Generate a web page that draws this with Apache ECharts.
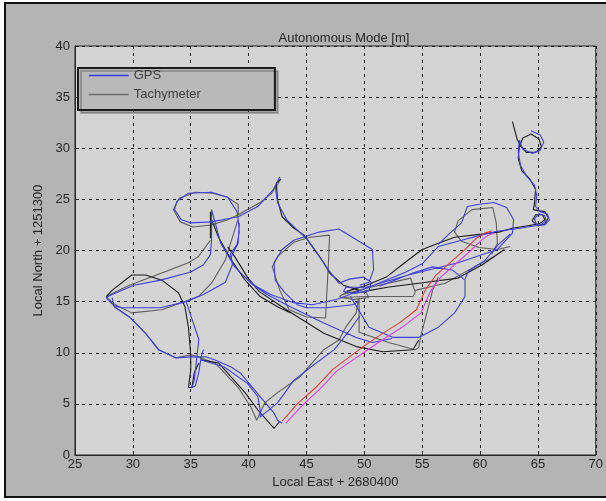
<!DOCTYPE html>
<html>
<head>
<meta charset="utf-8">
<script src="https://cdn.jsdelivr.net/npm/echarts@6/dist/echarts.min.js"></script>
<style>
  html, body { margin: 0; padding: 0; background: #fff; }
  #chart { width: 606px; height: 501px; }
</style>
</head>
<body>
<div id="chart"></div>
<script>
// GPS track pieces (local east, local north) [m]
const gpsCurl = [[64.4,31.7],[65.2,31.3],[65.5,30.6],[65.2,29.8],[64.5,29.5],[63.7,29.9],[63.4,30.8],[63.3,29.6],[63.5,28.3],[64.0,27.3],[64.7,26.4],[64.9,25.4],[64.8,24.3],[65.2,23.8],[65.8,23.6],[66.0,23.0],[65.6,22.5],[64.9,22.5],[64.7,23.1],[65.1,23.6],[65.6,23.4],[65.7,22.9],[65.2,22.5],[64.1,22.3],[63.0,22.1],[61.6,21.9],[60.4,21.6],[58.4,21.0],[56.4,20.4],[55.0,18.7],[53.6,17.9],[50.4,16.4],[47.6,15.2],[45.5,14.7],[43.9,14.9],[41.9,15.7],[40.5,16.6],[39.5,17.6],[38.6,18.7],[38.4,19.6],[39.0,20.6],[39.2,21.8],[39.1,23.0],[39.0,23.8]];
const gpsLoop = [[39.0,23.8],[38.2,25.2],[36.8,25.7],[34.8,25.6],[33.8,24.8],[33.6,24.0],[34.2,23.0],[35.0,22.7],[36.8,22.8],[39.1,23.3],[40.8,24.3],[42.1,25.9],[42.7,27.2],[42.3,26.3],[42.5,24.7],[43.3,23.0],[44.4,21.8],[45.0,21.2],[45.9,19.8],[46.7,18.4],[47.8,16.8],[48.7,17.2],[49.9,17.4],[50.6,16.9],[50.4,16.1],[49.2,15.8],[48.2,16.0],[48.4,16.4],[50.2,16.4],[53.8,17.6],[58.1,18.8],[61.5,20.1],[62.8,21.7],[62.9,23.0],[62.3,24.2],[61.2,24.7],[59.8,24.5],[58.9,24.3],[58.4,22.7],[57.3,21.6],[56.4,20.6]];
const gpsPentagon = [[49.5,15.0],[49.0,14.7],[46.7,14.4],[45.0,14.4],[44.2,14.7],[43.1,15.9],[42.3,17.1],[42.2,18.8],[42.9,20.1],[43.9,21.0],[46.1,21.8],[47.8,22.1],[50.7,20.1],[50.8,18.1],[50.4,16.9],[49.6,16.6]];
const gpsEast = [[48.8,15.5],[49.6,14.0],[50.4,12.5],[52.5,11.5],[54.7,11.5],[56.4,12.5],[57.8,13.9],[58.7,15.5],[58.7,17.1],[57.6,18.1],[55.9,18.4],[54.2,17.8],[51.3,16.5]];
const gpsSweep = [[62.6,21.6],[61.6,20.6],[60.4,19.0],[59.0,18.0],[58.7,17.2]];
const gpsWest = [[36.8,24.0],[36.8,21.0],[36.7,19.6],[36.1,18.6],[35.0,17.9],[32.4,17.1],[30.1,16.6],[28.2,15.7],[27.7,15.4],[28.0,15.0],[28.4,14.6],[29.0,14.4],[32.4,14.4],[34.6,15.0],[36.1,15.7],[38.0,16.9],[38.6,18.6],[38.5,19.4],[39.1,20.7],[39.2,22.7]];
const gpsDiag = [[36.8,24.0],[37.6,20.7],[38.8,18.4],[40.2,16.8],[41.6,15.7],[43.6,14.5],[46.5,12.9],[49.3,11.5],[50.7,11.0],[52.4,11.4]];
const gpsSouth = [[28.2,15.4],[28.4,14.5],[29.7,13.5],[31.1,11.9],[32.2,10.3],[33.7,9.5],[35.1,9.6],[36.3,9.6],[37.1,9.3],[38.5,8.6],[39.3,8.0],[41.0,5.7],[42.2,4.1],[42.5,3.4],[42.9,3.1]];
const gpsSouth2 = [[35.9,9.3],[37.9,8.6],[39.9,7.0],[40.8,5.7],[41.0,4.4],[41.0,3.7],[41.4,4.1],[42.5,5.1],[43.9,7.3],[45.5,8.7],[47.4,10.3],[48.8,12.3],[49.6,13.6]];
const gpsNeedle = [[34.6,15.0],[35.2,13.0],[35.7,11.3],[35.5,9.3],[35.3,7.3],[35.1,6.6],[35.4,6.75],[35.7,8.1],[35.9,9.6],[36.1,10.3]];

// Tachymeter track pieces
const tachyCurl = [[62.8,32.6],[63.2,30.9],[63.5,30.2],[64.0,29.6],[64.8,29.6],[65.3,30.1],[65.1,30.9],[64.4,31.4],[63.7,31.0],[63.4,30.2],[63.3,29.0],[63.6,27.8],[64.3,27.0],[64.8,26.0],[64.7,24.6],[64.6,24.0],[65.0,23.9],[65.6,23.8],[65.9,23.2],[65.6,22.6],[65.0,22.4],[64.5,22.9],[64.8,23.5],[65.4,23.5],[65.6,23.0],[65.1,22.6],[64.0,22.4],[62.9,22.2],[61.6,21.8],[60.1,21.6],[57.8,21.3],[56.4,20.7],[55.0,20.1],[53.6,18.9],[51.9,17.4],[50.2,16.6],[48.5,16.0]];
const tachyOct = [[61.0,19.6],[61.5,20.7],[61.4,22.7],[61.1,24.2],[59.3,24.0],[58.1,22.9],[57.8,21.8],[58.4,20.9],[59.9,20.3],[61.5,20.1],[62.6,20.4]];
const tachyEast = [[61.2,19.4],[59.5,18.4],[57.0,16.8],[55.5,16.4],[54.4,16.1]];
const tachyEast2 = [[62.1,20.1],[60.2,18.6],[58.1,17.3],[54.7,16.8],[52.0,16.4],[50.0,16.0]];
const tachyD = [[47.0,21.5],[46.9,18.8],[46.65,13.4],[45.0,13.5],[43.5,14.2],[42.7,16.1],[42.05,18.4],[42.5,19.4],[43.9,20.8],[45.3,21.3],[47.0,21.5]];
const tachyPeak = [[42.8,27.0],[42.4,26.6],[42.5,24.95],[42.9,23.3],[43.9,22.2],[44.8,21.5],[45.3,20.7],[46.5,18.8],[47.0,17.8],[48.2,16.6],[49.55,16.1]];
const tachySmall = [[47.85,15.5],[48.4,15.9],[50.15,15.9],[50.4,15.4],[49.0,15.2],[48.0,15.4],[47.85,15.5]];
const tachyLens = [[48.0,15.65],[50.15,16.3],[54.0,17.3],[54.4,15.9],[54.2,15.5],[50.15,15.5],[48.0,15.4]];
const tachyWedge = [[49.55,15.4],[49.55,12.0],[52.1,11.0],[54.4,10.3],[54.7,10.5],[54.9,11.75],[55.4,13.9],[55.9,16.1],[56.4,17.4]];
const tachyArc = [[38.2,20.35],[38.8,19.4],[39.9,17.4],[40.9,16.0],[43.4,14.1],[46.5,11.9],[49.3,10.6],[51.6,10.1],[54.2,10.3],[54.7,11.25]];
const tachyEllipse = [[39.1,23.5],[39.1,24.5],[38.2,25.2],[36.9,25.6],[35.4,25.7],[34.0,25.1],[33.5,24.0],[34.1,22.8],[35.2,22.3],[36.8,22.5],[38.2,23.0],[39.1,23.5],[41.0,24.7],[42.0,25.6],[42.8,27.0]];
const tachyTick = [[36.7,23.8],[36.7,21.2]];
const tachyDiag = [[36.7,23.3],[37.4,21.3],[38.5,19.1],[39.7,17.1],[41.0,15.5],[42.5,14.5],[43.6,13.9]];
const tachyWest = [[36.7,21.0],[35.66,19.4],[34.8,18.8],[32.5,17.8],[29.7,16.6],[27.7,15.5],[28.2,14.9],[28.84,14.5],[29.9,13.9],[32.5,14.2],[34.2,14.9],[35.66,15.5],[36.8,16.8],[38.0,19.1],[38.8,22.0],[39.07,23.0]];
const tachyHump = [[27.7,15.5],[28.2,16.1],[29.9,17.6],[31.1,17.6],[32.5,17.1],[33.95,15.85],[34.5,14.5],[34.8,12.5],[35.0,9.8],[35.0,8.3],[34.8,6.6],[35.1,6.6],[35.3,8.0],[35.7,9.0]];
const tachySouth = [[28.0,15.2],[28.4,14.5],[29.7,13.5],[31.1,11.9],[32.25,10.3],[33.7,9.5],[35.05,9.8],[37.1,9.0],[39.07,6.65],[40.2,4.7],[40.7,3.4],[41.4,5.1],[42.5,6.1],[44.4,7.6],[46.5,10.3],[47.8,11.25],[48.4,12.5],[49.3,13.9],[49.5,15.3]];
const tachySouth2 = [[35.9,9.3],[37.4,9.0],[39.7,6.1],[40.8,4.4],[42.2,2.6],[42.7,3.3]];

// reference segments
const redTrack = [[42.9,3.3],[44.2,5.0],[45.9,6.7],[47.3,8.4],[49.9,10.6],[51.2,11.6],[53.0,12.9],[54.5,14.2],[55.3,16.2],[56.2,17.6],[57.8,19.2],[58.8,20.2],[59.7,21.2],[60.4,21.7],[61.0,21.9]];
const magentaTrack = [[43.2,3.1],[44.6,4.8],[46.2,6.5],[47.6,8.2],[50.3,10.3],[51.6,11.3],[53.4,12.6],[54.9,13.9],[55.7,16.0],[56.6,17.4],[58.2,19.0],[59.2,20.0],[60.1,21.0],[60.7,21.5],[61.2,21.7]];

const gpsPieces = [gpsCurl, gpsLoop, gpsPentagon, gpsEast, gpsSweep, gpsWest, gpsDiag, gpsSouth, gpsSouth2, gpsNeedle];
const grayPieces = [tachyOct, tachyEast, tachyD, tachySmall, tachyLens, tachyWedge, tachyEllipse, tachyWest, tachySouth];
const blackPieces = [tachyCurl, tachyEast2, tachyPeak, tachyArc, tachyTick, tachyDiag, tachyHump, tachySouth2];

// glue pieces into one series, a null point breaks the line between them
function joinPieces(pieces) {
  const out = [];
  pieces.forEach((p, i) => {
    if (i > 0) out.push([null, null]);
    p.forEach(pt => out.push(pt));
  });
  return out;
}

const FONT = 'Liberation Sans, Arial, sans-serif';
const INK = '#262626';
const BLUE = '#4040d8';
const GRAY = '#5e5e5e';

function track(name, data, color, z) {
  return {
    name: name,
    type: 'line',
    data: data,
    symbol: 'none',
    connectNulls: false,
    z: z,
    lineStyle: { color: color, width: 1.1 },
    itemStyle: { color: color }
  };
}

const series = [
  track('Tachymeter', joinPieces(grayPieces), GRAY, 2),
  track('Tachymeter (raw)', joinPieces(blackPieces), '#1c1c1c', 2),
  track('GPS', joinPieces(gpsPieces), BLUE, 3),
  track('ref', redTrack, '#e23a3a', 4),
  track('ref2', magentaTrack, '#e040e0', 4)
];

const chart = echarts.init(document.getElementById('chart'), null, { renderer: 'canvas' });
chart.setOption({
  animation: false,
  backgroundColor: '#ffffff',
  textStyle: { fontFamily: FONT },
  graphic: [{
    type: 'rect',
    z: -10,
    shape: { x: 5, y: 3, width: 610, height: 494 },
    style: { fill: '#b4b4b4', stroke: '#111', lineWidth: 2 }
  }],
  title: {
    text: 'Autonomous Mode [m]',
    left: 339,
    top: 27,
    textAlign: 'center',
    textStyle: { fontFamily: FONT, fontSize: 13, fontWeight: 'normal', color: INK }
  },
  legend: {
    data: [
      { name: 'GPS', itemStyle: { opacity: 0 }, lineStyle: { color: '#3a3ae0', width: 1.4 } },
      { name: 'Tachymeter', itemStyle: { opacity: 0 }, lineStyle: { color: '#6a6a6a', width: 1.4 } }
    ],
    orient: 'vertical',
    left: 78,
    top: 68,
    itemWidth: 40,
    itemHeight: 14,
    itemGap: 6,
    padding: [1, 74, 9, 10],
    itemStyle: { opacity: 0 },
    backgroundColor: '#b9b9b9',
    borderColor: '#1a1a1a',
    borderWidth: 2,
    shadowColor: 'rgba(0,0,0,0.22)',
    shadowOffsetX: 3,
    shadowOffsetY: 3,
    shadowBlur: 0,
    selectedMode: false,
    textStyle: { fontFamily: FONT, fontSize: 13, color: '#404040' }
  },
  grid: {
    left: 75, right: 3, top: 46, bottom: 46,
    show: true,
    backgroundColor: '#d4d4d4',
    borderColor: INK,
    borderWidth: 1
  },
  xAxis: {
    type: 'value',
    min: 25, max: 70, interval: 5,
    name: 'Local East + 2680400',
    nameLocation: 'middle',
    nameGap: 21,
    nameTextStyle: { fontFamily: FONT, fontSize: 13, color: INK },
    axisLine: { lineStyle: { color: INK } },
    axisTick: { inside: true, length: 4, lineStyle: { color: INK } },
    axisLabel: { margin: 3, fontFamily: FONT, fontSize: 13, color: INK, showMaxLabel: true },
    splitLine: { lineStyle: { color: '#1e1e1e', type: [3, 4], width: 1 } }
  },
  yAxis: {
    type: 'value',
    min: 0, max: 40, interval: 5,
    name: 'Local North + 1251300',
    nameLocation: 'middle',
    nameGap: 30,
    nameTextStyle: { fontFamily: FONT, fontSize: 13, color: INK },
    axisLine: { show: true, lineStyle: { color: INK } },
    axisTick: { show: true, inside: true, length: 4, lineStyle: { color: INK } },
    axisLabel: { margin: 5, fontFamily: FONT, fontSize: 13, color: INK },
    splitLine: { lineStyle: { color: '#1e1e1e', type: [3, 4], width: 1 } }
  },
  series: series
});
</script>
</body>
</html>
